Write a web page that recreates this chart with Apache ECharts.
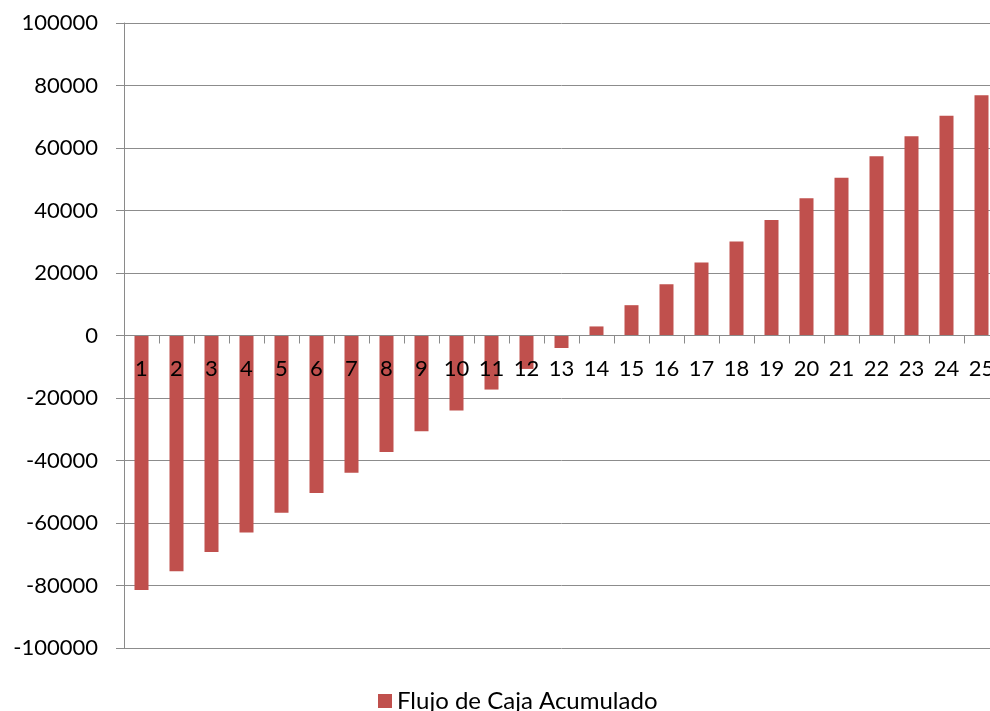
<!DOCTYPE html>
<html>
<head>
<meta charset="utf-8">
<script src="https://cdn.jsdelivr.net/npm/echarts@6/dist/echarts.min.js"></script>
<style>html,body{margin:0;padding:0;background:#fff;overflow:hidden;width:990px;height:711px;}#c{width:1000px;height:711px;}</style>
</head>
<body>
<div id="c"></div>
<script>
const categories = ['1','2','3','4','5','6','7','8','9','10','11','12','13','14','15','16','17','18','19','20','21','22','23','24','25'];
const flujoAcumulado = [-81400,-75400,-69300,-63000,-56700,-50400,-43900,-37300,-30600,-24000,-17300,-10700,-4000,2900,9700,16400,23400,30100,37000,43900,50500,57400,63800,70300,76900];
const seriesName = 'Flujo de Caja Acumulado';
const yMin = -100000, yMax = 100000, yStep = 20000;

const FONT = 'Lato';
const chart = echarts.init(document.getElementById('c'), null, {renderer:'canvas'});
chart.setOption({
  animation:false,
  backgroundColor:'#ffffff',
  textStyle:{fontFamily:FONT},
  grid:{left:124, right:1, top:23, bottom:63, containLabel:false},
  legend:{
    data:[seriesName], left:373, top:684,
    icon:'rect', itemWidth:14, itemHeight:14, itemGap:5,
    textStyle:{fontFamily:FONT, fontSize:24, color:'#000'}
  },
  xAxis:{
    type:'category', data:categories, z:3,
    offset:-312.5,
    axisLine:{onZero:false, lineStyle:{color:'#8a8a8a', width:1}},
    axisTick:{show:true, length:8, inside:false, alignWithLabel:false, lineStyle:{color:'#8a8a8a'}},
    axisLabel:{interval:0, hideOverlap:false, margin:22, fontFamily:FONT, fontSize:22, color:'#000'},
    splitLine:{show:false}
  },
  yAxis:{
    type:'value', min:yMin, max:yMax, interval:yStep,
    axisLine:{show:true, lineStyle:{color:'#8a8a8a', width:1}},
    axisTick:{show:true, length:8, lineStyle:{color:'#8a8a8a'}},
    axisLabel:{margin:26, fontFamily:FONT, fontSize:22, color:'#000', formatter:function(v){return String(v);}},
    splitLine:{show:true, lineStyle:{color:'#8c8c8c', width:1}}
  },
  series:[{
    name:seriesName, type:'bar', data:flujoAcumulado,
    barWidth:14,
    itemStyle:{color:'#C0504D'}
  }]
});
</script>
</body>
</html>
